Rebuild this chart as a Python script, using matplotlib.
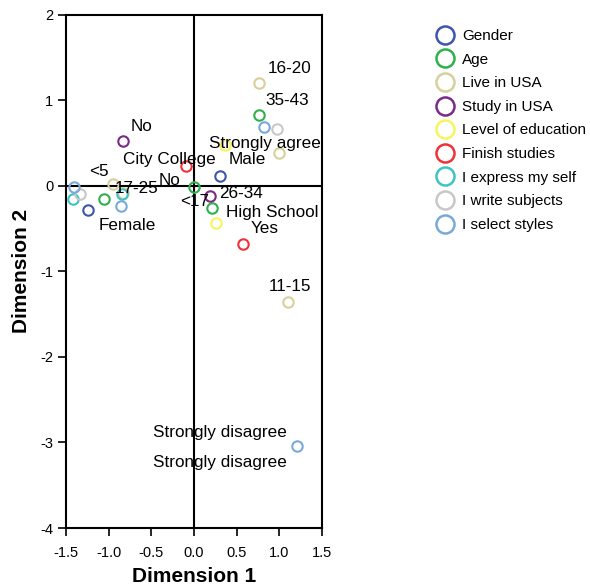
import matplotlib
matplotlib.use("Agg")
import matplotlib.pyplot as plt
from matplotlib.lines import Line2D

plt.rcParams['font.family'] = ['Liberation Sans', 'DejaVu Sans']

# ---- data ----
series_names = ["Gender", "Age", "Live in USA", "Study in USA", "Level of education",
                "Finish studies", "I express my self", "I write subjects", "I select styles"]
series_colors = ["#3d56ad", "#2eb14a", "#d6d09a", "#7a2a88", "#f7f55c",
                 "#ee3238", "#3ec3c3", "#c8c8c8", "#79a9da"]

gender_x = [0.30, -1.24]
gender_y = [0.11, -0.29]
age_x = [0.76, 0.00, 0.21, -1.06]
age_y = [0.82, -0.01, -0.26, -0.15]
live_x = [0.76, 1.00, -0.95, 1.10, -0.83]
live_y = [1.20, 0.38, 0.02, -1.36, -0.08]
study_x = [-0.83, 0.19]
study_y = [0.52, -0.12]
edu_x = [0.36, 0.26]
edu_y = [0.47, -0.44]
finish_x = [-0.09, 0.58]
finish_y = [0.23, -0.68]
express_x = [-1.42, -0.84]
express_y = [-0.15, -0.10]
write_x = [0.97, -1.34]
write_y = [0.66, -0.10]
select_x = [0.82, -1.41, -0.85, 1.21]
select_y = [0.68, -0.01, -0.24, -3.04]

series_x = [gender_x, age_x, live_x, study_x, edu_x, finish_x, express_x, write_x, select_x]
series_y = [gender_y, age_y, live_y, study_y, edu_y, finish_y, express_y, write_y, select_y]

label_texts = ["16-20", "35-43", "No", "Strongly agree", "City College", "Male", "<5",
               "No", "17-25", "<17", "26-34", "High School", "Yes", "Female", "11-15",
               "Strongly disagree", "Strongly disagree"]
label_x = [0.86, 0.84, -0.74, 0.18, -0.83, 0.40, -1.23,
           -0.41, -0.93, -0.16, 0.30, 0.37, 0.66, -1.12, 0.88,
           -0.48, -0.48]
label_y = [1.37, 1.00, 0.69, 0.49, 0.30, 0.30, 0.16,
           0.06, -0.03, -0.19, -0.09, -0.31, -0.50, -0.47, -1.18,
           -2.88, -3.23]

x_ticks = [-1.5, -1.0, -0.5, 0.0, 0.5, 1.0, 1.5]
y_ticks = [2, 1, 0, -1, -2, -3, -4]

# ---- figure ----
fig = plt.figure(figsize=(5.9, 5.88), dpi=100)
ax = fig.add_axes([66/590, 60/588, 256/590, 513.5/588])

ax.axhline(0, color="black", lw=1.5, zorder=1)
ax.axvline(0, color="black", lw=1.5, zorder=1)

for name, col, xs, ys in zip(series_names, series_colors, series_x, series_y):
    ax.plot(xs, ys, linestyle="none", marker="o", ms=7.5, mfc="none",
            mec=col, mew=1.5, zorder=3, label=name)

for t, x, y in zip(label_texts, label_x, label_y):
    ax.text(x, y, t, fontsize=12.3, ha="left", va="center", color="black", zorder=4)

ax.set_xlim(-1.5, 1.5)
ax.set_ylim(-4, 2)
ax.set_xticks(x_ticks)
ax.set_xticklabels([f"{v:.1f}" for v in x_ticks])
ax.set_yticks(y_ticks)
ax.set_yticklabels([str(v) for v in y_ticks])
ax.tick_params(direction="out", length=6, width=1.2, labelsize=10.5, colors="black", pad=3)
ax.tick_params(axis="x", pad=7)
for s in ax.spines.values():
    s.set_linewidth(1.5)
    s.set_color("black")

ax.set_xlabel("Dimension 1", fontsize=15, fontweight="bold", labelpad=5)
ax.set_ylabel("Dimension 2", fontsize=15, fontweight="bold", labelpad=7)

handles = [Line2D([], [], linestyle="none", marker="o", ms=13, mfc="none", mec=c, mew=1.8)
           for c in series_colors]
fig.legend(handles, series_names, loc="upper left", bbox_to_anchor=(437/590, 1 - 29/588),
           frameon=False, fontsize=11, handlelength=1.0, handletextpad=0.65,
           labelspacing=0.63, borderaxespad=0, borderpad=0)

fig.savefig("out.png", dpi=100)
